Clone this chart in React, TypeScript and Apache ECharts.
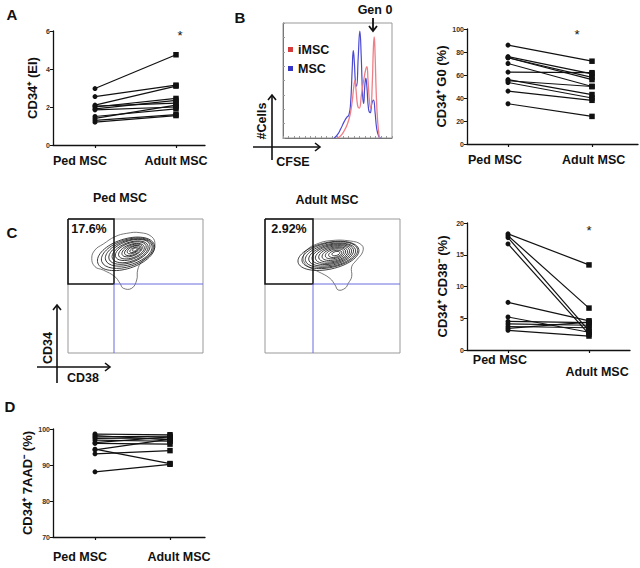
import React, { useEffect, useRef } from 'react';
import * as echarts from 'echarts';

// ---------- data ----------
const groups = ['Ped MSC', 'Adult MSC'];

const aPed = [2.97, 2.55, 2.1, 2.05, 2.0, 1.9, 1.85, 1.5, 1.4, 1.3, 1.2];
const aAdult = [4.75, 3.15, 3.1, 2.2, 2.45, 2.35, 2.0, 1.9, 2.1, 1.6, 1.55];

const bPed = [86, 76, 75, 75, 70, 62.5, 56, 55, 53.5, 46, 35];
const bAdult = [72, 61, 58, 56, 50, 62, 43, 50, 40, 38, 24];

const cPed = [18.3, 18.0, 17.7, 16.7, 7.5, 5.2, 4.5, 4.1, 3.7, 3.4, 3.1];
const cAdult = [13.4, 6.6, 3.0, 2.5, 4.6, 2.8, 4.3, 3.9, 3.5, 4.4, 2.2];

const dPed = [98.6, 98.2, 97.8, 97.4, 96.9, 96.2, 96.0, 94.4, 94.2, 93.1, 88.1];
const dAdult = [98.4, 97.0, 98.0, 97.5, 96.6, 97.8, 95.8, 90.4, 97.2, 94.0, 90.2];

// CFSE histograms (x: relative CFSE channel, y: relative count)
const histMSC = [
  [47, 0], [50, 3], [53, 8], [56, 14], [58.5, 18], [60.5, 20], [62, 30], [63.5, 60], [64.5, 76],
  [65.5, 65], [66.5, 48], [67.5, 45], [69, 70], [70.5, 93], [71.8, 70], [73, 38], [74, 30],
  [75, 45], [76, 52], [77, 44], [78.5, 25], [80, 22], [81.5, 30], [83, 33], [84.5, 22],
  [86, 8], [88, 1], [89.5, 0],
];
const histIMSC = [
  [50, 0], [53, 2], [56, 6], [59, 12], [61.5, 20], [63.5, 32], [65, 45], [66, 50], [67, 42],
  [68.5, 28], [70, 26], [72, 38], [74, 50], [76, 60], [77, 62], [78, 50], [79.5, 30], [80.5, 26],
  [81.8, 45], [83, 80], [83.7, 88], [84.5, 72], [85.5, 40], [86.8, 15], [88.4, 0],
];

// Flow contour plots (CD38 on x, CD34 on y, 0-100 display units)
const pedOuter = [
  [17.6, 70.7], [20, 76.9], [26.1, 81.3], [34.8, 86.8], [43.5, 89.3], [53.3, 89.8], [62, 86.8],
  [64.4, 80.6], [62, 74.4], [54.6, 68.1], [51.6, 61.9], [50.9, 54.5], [47.2, 48.3], [41, 48.3],
  [38.5, 52], [34.8, 56.9], [26.1, 61.9], [20, 64.4],
];
const pedLevels = [
  [43, 74, 22, 11, 18], [44, 74.5, 20, 10, 18], [45, 75, 18, 9, 18], [45.5, 75.5, 16, 8, 20],
  [46, 75.5, 14, 7, 20], [46.5, 76, 12, 6, 20], [47, 76, 10, 5, 20], [47.5, 76.5, 8, 4, 22],
  [48, 76.5, 6.5, 3.2, 22], [48.5, 77, 5, 2.4, 25], [49, 77, 3.5, 1.6, 25], [49.5, 77.2, 2, 1, 25],
];
const adultOuter = [
  [28.4, 71.9], [30.9, 76.9], [38.3, 81.3], [48.1, 83.8], [63, 83.6], [71.6, 80.6], [72.4, 75.6],
  [67.9, 69.4], [64.2, 64.4], [64.2, 56.9], [61.7, 52], [59.3, 48.3], [54.3, 47], [51.9, 50.7],
  [48.1, 55.7], [39.5, 60.7], [32.1, 64.4], [28.9, 68.1],
];
const adultLevels = [
  [47, 72.5, 23, 10, 12], [48, 73, 21, 9.2, 12], [48.5, 73, 19, 8.4, 12], [49, 73.2, 17, 7.6, 13],
  [49.5, 73.4, 15, 6.8, 13], [50, 73.5, 13, 6, 14], [50.5, 73.6, 11, 5.2, 14], [51, 73.8, 9, 4.3, 15],
  [51.5, 74, 7, 3.4, 15], [52, 74, 5, 2.5, 15], [52.5, 74.2, 3, 1.5, 15],
];

// ---------- layout ----------
const FONT = '"Liberation Sans", Arial, Helvetica, sans-serif';
const BLACK = '#111';

const panels = [
  { ped: aPed, adult: aAdult, min: 0, max: 6, interval: 2, name: 'CD34⁺ (EI)', nameGap: 14,
    f: { left: 53, right: 205, top: 31, bottom: 145, pedX: 95, adultX: 176 }, labelAt: [-0.185, 1.0], margin: 9 },
  { ped: bPed, adult: bAdult, min: 0, max: 100, interval: 20, name: 'CD34⁺ G0 (%)', nameGap: 19,
    f: { left: 467, right: 638, top: 29, bottom: 144, pedX: 508, adultX: 592 }, labelAt: [-0.155, 1.02], margin: 9 },
  { ped: cPed, adult: cAdult, min: 0, max: 20, interval: 5, name: 'CD34⁺ CD38⁻ (%)', nameGap: 18,
    f: { left: 467, right: 630, top: 223, bottom: 350, pedX: 508, adultX: 589 }, labelAt: [-0.1, 1.1], margin: 3, stagger: true },
  { ped: dPed, adult: dAdult, min: 70, max: 100, interval: 10, name: 'CD34⁺ 7AAD⁻ (%)', nameGap: 13,
    f: { left: 53, right: 205, top: 429, bottom: 537, pedX: 95, adultX: 170 }, labelAt: [-0.2, 1.12], margin: 13 },
];

function buildOption() {
  const grid: any[] = [];
  const xAxis: any[] = [];
  const yAxis: any[] = [];
  const series: any[] = [];

  panels.forEach((p, i) => {
    const f = p.f;
    const unit = f.adultX - f.pedX;
    const lo = -(f.pedX - f.left) / unit;
    const hi = (f.right - f.pedX) / unit;
    grid.push({ left: f.left, top: f.top, width: f.right - f.left, height: f.bottom - f.top });
    xAxis.push({
      gridIndex: i, type: 'value', min: lo, max: hi,
      axisLine: { show: true, onZero: false, lineStyle: { color: BLACK, width: 1.3 } },
      axisTick: { show: true, customValues: [0, 1], length: 3, lineStyle: { color: BLACK, width: 1.2 } },
      axisLabel: {
        show: true, customValues: p.labelAt, margin: p.margin,
        formatter: (v: number) => {
          const n = v < 0.5 ? 0 : 1;
          if (p.stagger) return n === 0 ? '{p|' + groups[0] + '}' : '{q|' + groups[1] + '}';
          return groups[n];
        },
        fontFamily: FONT, fontWeight: 'bold', fontSize: 12.5, color: BLACK,
        rich: {
          p: { fontFamily: FONT, fontWeight: 'bold', fontSize: 12.5, color: BLACK },
          q: { fontFamily: FONT, fontWeight: 'bold', fontSize: 12.5, color: BLACK, padding: [12, 0, 0, 0] },
        },
      },
      splitLine: { show: false },
    });
    yAxis.push({
      gridIndex: i, type: 'value', min: p.min, max: p.max, interval: p.interval,
      axisLine: { show: true, onZero: false, lineStyle: { color: BLACK, width: 1.3 } },
      axisTick: { show: true, length: 3, lineStyle: { color: BLACK, width: 1 } },
      axisLabel: { fontFamily: FONT, fontWeight: 'bold', fontSize: 7, color: '#333', margin: 3 },
      splitLine: { show: false },
      name: p.name, nameLocation: 'middle', nameGap: p.nameGap,
      nameTextStyle: { fontFamily: FONT, fontWeight: 'bold', fontSize: 13, color: BLACK },
    });
    p.ped.forEach((v, j) => {
      series.push({
        type: 'line', xAxisIndex: i, yAxisIndex: i, silent: true,
        data: [
          { value: [0, v], symbol: 'circle', symbolSize: 5 },
          { value: [1, p.adult[j]], symbol: 'rect', symbolSize: 5.5 },
        ],
        lineStyle: { color: BLACK, width: 1.2 },
        itemStyle: { color: BLACK },
        z: 3,
      });
    });
  });

  // histogram grid (index 4)
  grid.push({ left: 283, top: 23, width: 109, height: 115, show: true, borderColor: '#999', borderWidth: 1 });
  xAxis.push({
    gridIndex: 4, type: 'value', min: 0, max: 100, splitNumber: 20,
    axisLine: { show: true, lineStyle: { color: '#777' } },
    axisTick: { show: true, inside: true, length: 2, lineStyle: { color: '#999' } },
    axisLabel: { show: false }, splitLine: { show: false },
  });
  yAxis.push({
    gridIndex: 4, type: 'value', min: 0, max: 100, interval: 12.5,
    axisLine: { show: true, lineStyle: { color: '#777' } },
    axisTick: { show: true, inside: true, length: 2, lineStyle: { color: '#999' } },
    axisLabel: { show: false }, splitLine: { show: false },
  });
  series.push({
    type: 'line', xAxisIndex: 4, yAxisIndex: 4, data: histMSC, smooth: 0.5, symbol: 'none', silent: true,
    lineStyle: { color: '#4a4ad0', width: 1.2 }, z: 2,
  });
  series.push({
    type: 'line', xAxisIndex: 4, yAxisIndex: 4, data: histIMSC, smooth: 0.5, symbol: 'none', silent: true,
    lineStyle: { color: '#ef7f86', width: 1.3 }, z: 2,
  });

  // flow contour grids (5 and 6)
  const flow = [
    { left: 68, outer: pedOuter, levels: pedLevels },
    { left: 265, outer: adultOuter, levels: adultLevels },
  ];
  flow.forEach((fl, k) => {
    const gi = 5 + k;
    grid.push({ left: fl.left, top: 219, width: 135, height: 134, show: true, borderColor: '#999', borderWidth: 1 });
    xAxis.push({ gridIndex: gi, type: 'value', min: 0, max: 100, show: false });
    yAxis.push({ gridIndex: gi, type: 'value', min: 0, max: 100, show: false });
    series.push({
      type: 'custom', xAxisIndex: gi, yAxisIndex: gi, data: fl.outer, silent: true,
      encode: { x: 0, y: 1 },
      renderItem: (params: any, api: any) => {
        if (params.dataIndex !== 0) return null;
        const pts = fl.outer.map((pt) => api.coord(pt));
        return {
          type: 'polygon', shape: { points: pts, smooth: 0.45 },
          style: { fill: 'none', stroke: '#555', lineWidth: 0.8 },
        };
      },
      z: 2,
    });
    series.push({
      type: 'custom', xAxisIndex: gi, yAxisIndex: gi, data: fl.levels, silent: true,
      encode: { x: 0, y: 1 },
      renderItem: (params: any, api: any) => {
        const c = api.coord([api.value(0), api.value(1)]);
        const s = api.size([api.value(2), api.value(3)]);
        return {
          type: 'ellipse', x: c[0], y: c[1], rotation: (api.value(4) * Math.PI) / 180,
          shape: { cx: 0, cy: 0, rx: s[0], ry: s[1] },
          style: { fill: 'none', stroke: '#222', lineWidth: 0.8 },
        };
      },
      z: 3,
    });
  });

  const txt = (text: string, x: number, y: number, size: number, opts: any = {}) => ({
    type: 'text', x, y, rotation: opts.rotation || 0, z: 10,
    style: {
      text, font: `${opts.weight || 'bold'} ${size}px ${FONT}`, fill: opts.fill || BLACK,
      textAlign: opts.align || 'center', textVerticalAlign: 'middle',
    },
  });
  const ln = (pts: number[][], w = 1.5, color = BLACK) => ({
    type: 'polyline', z: 10, shape: { points: pts }, style: { stroke: color, lineWidth: w, fill: 'none' },
  });

  const graphic: any[] = [
    txt('A', 12, 14, 15), txt('B', 240, 17, 15), txt('C', 12, 232, 15), txt('D', 10, 406, 15),
    txt('*', 180, 35, 13, { weight: 'normal' }), txt('*', 577, 34, 13, { weight: 'normal' }), txt('*', 589, 230, 13, { weight: 'normal' }),
    // histogram annotations
    txt('Gen 0', 375, 10, 12.5),
    ln([[373, 18], [373, 31]], 1.8), ln([[369, 26], [373, 31], [377, 26]], 1.8),
    { type: 'rect', z: 10, shape: { x: 288, y: 47, width: 5, height: 5 }, style: { fill: '#d43c3c' } },
    txt('iMSC', 298, 50, 12.5, { align: 'left' }),
    { type: 'rect', z: 10, shape: { x: 288, y: 66, width: 5, height: 5 }, style: { fill: '#3636c4' } },
    txt('MSC', 298, 69, 12.5, { align: 'left' }),
    txt('#Cells', 262, 121, 12.5, { rotation: Math.PI / 2 }),
    ln([[272, 160], [272, 95]], 1.6), ln([[268, 100], [272, 95], [276, 100]], 1.6),
    ln([[253, 147], [320, 147]], 1.6), ln([[315, 143], [320, 147], [315, 151]], 1.6),
    txt('CFSE', 293, 162, 12.5),
    // flow plot annotations
    txt('Ped MSC', 120, 198, 12.5), txt('Adult MSC', 327, 200, 12.5),
    ln([[68, 219], [114, 219], [114, 284], [68, 284], [68, 219]], 1.5),
    ln([[114, 284], [114, 353]], 1, '#6a6ae0'), ln([[114, 284], [203, 284]], 1, '#6a6ae0'),
    txt('17.6%', 89, 229, 12.5),
    ln([[265, 219], [313, 219], [313, 284], [265, 284], [265, 219]], 1.5),
    ln([[313, 284], [313, 353]], 1, '#6a6ae0'), ln([[313, 284], [400, 284]], 1, '#6a6ae0'),
    txt('2.92%', 289, 229, 12.5),
    txt('CD34', 48, 348, 12.5, { rotation: Math.PI / 2 }),
    ln([[57, 383], [57, 305]], 1.6), ln([[53, 310], [57, 305], [61, 310]], 1.6),
    ln([[37, 367], [110, 367]], 1.6), ln([[105, 363], [110, 367], [105, 371]], 1.6),
    txt('CD38', 83, 378, 12.5),
  ];

  return { animation: false, backgroundColor: '#fff', grid, xAxis, yAxis, series, graphic };
}

export default function App() {
  const ref = useRef<HTMLDivElement>(null);
  useEffect(() => {
    document.body.style.margin = '0';
    const chart = echarts.init(ref.current!, null, { renderer: 'svg' });
    chart.setOption(buildOption() as any);
    return () => chart.dispose();
  }, []);
  return <div ref={ref} style={{ width: 640, height: 568 }} />;
}
